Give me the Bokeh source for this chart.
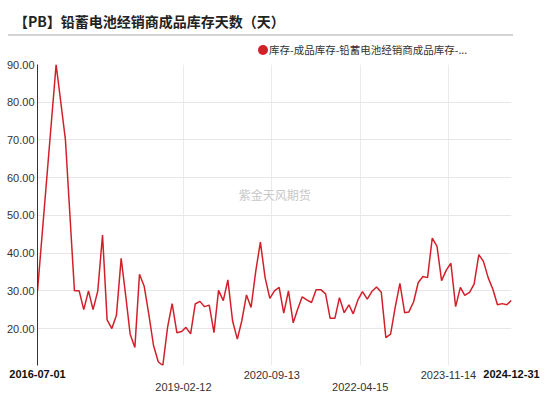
import pandas as pd
from bokeh.plotting import figure
from bokeh.models import (Range1d, FixedTicker, Label, Div,
                          ColumnDataSource, PrintfTickFormatter, DatetimeAxis,
                          DatetimeTickFormatter)
from bokeh.layouts import column
from bokeh.embed import file_html
from bokeh.resources import INLINE

TITLE = "【PB】铅蓄电池经销商成品库存天数（天）"
SERIES_NAME = "库存-成品库存-铅蓄电池经销商成品库存-..."
WATERMARK = "紫金天风期货"

START_DATE = "2016-07-01"
FIRST_MONTH_END = "2016-07-31"
N_MONTH_ENDS = 102

# monthly values (None = month not present in the series)
values = [
    30.0, None, None, None, 90.0, None, 70.0, None, 30.0, 30.0,
    25.0, 30.0, 25.0, 30.0, 44.8, 22.3, 20.0, 23.5, 38.6, 28.3,
    18.5, 15.0, 34.4, 31.2, 23.8, 15.5, 11.2, 10.2, 20.3, 26.6,
    18.9, 19.2, 20.3, 18.6, 26.5, 27.2, 25.8, 26.2, 18.9, 30.1,
    27.4, 32.9, 22.0, 17.2, 22.0, 28.9, 25.6, 35.3, 42.9, 33.5,
    28.0, 30.0, 30.9, 24.1, 30.0, 21.5, 25.0, 28.4, 27.6, 26.9,
    30.3, 30.3, 29.2, 22.7, 22.7, 28.2, 24.2, 26.3, 23.9, 27.6,
    29.8, 27.8, 29.8, 31.0, 29.6, 17.6, 18.5, 25.6, 32.0, 24.2,
    24.4, 27.1, 32.2, 33.8, 33.5, 44.0, 41.8, 32.7, 35.5, 37.3,
    25.8, 30.9, 28.8, 29.6, 31.8, 39.6, 37.8, 33.5, 30.4, 26.3,
    26.6, 26.3, 27.5,
]

x_ticks_edge = ["2016-07-01", "2024-12-31"]          # bold, upper row
x_ticks_upper = ["2020-09-13", "2023-11-14"]          # normal, upper row
x_ticks_lower = ["2019-02-12", "2022-04-15"]          # normal, lower row
y_ticks = [20, 30, 40, 50, 60, 70, 80, 90]
Y_MAX = 90

RED = "#d2202a"

month_ends = list(pd.date_range(FIRST_MONTH_END, periods=N_MONTH_ENDS, freq=pd.offsets.MonthEnd()))
all_dates = [pd.Timestamp(START_DATE)] + month_ends
xs, ys = [], []
for d, v in zip(all_dates, values):
    if v is not None:
        xs.append(d)
        ys.append(v)
src = ColumnDataSource(dict(x=xs, y=ys))

def ms(s):
    return pd.Timestamp(s).value / 1e6

y_min = min(ys)

p = figure(width=540, height=337, x_axis_type="datetime", x_axis_location=None,
           x_range=Range1d(ms(x_ticks_edge[0]), ms(x_ticks_edge[1])),
           y_range=Range1d(y_min, Y_MAX),
           output_backend="svg", toolbar_location=None,
           min_border_left=37, min_border_right=29, min_border_top=8, min_border_bottom=28)
p.outline_line_color = None
p.background_fill_color = "white"

p.line("x", "y", source=src, line_color=RED, line_width=1.5)

# grids
p.xgrid.ticker = FixedTicker(ticks=[ms(t) for t in x_ticks_lower + x_ticks_upper])
p.xgrid.grid_line_color = "#ebebeb"
p.yaxis.ticker = FixedTicker(ticks=y_ticks)
p.ygrid.ticker = FixedTicker(ticks=y_ticks)
p.ygrid.grid_line_color = "#e6e6e6"

# y axis
p.yaxis.formatter = PrintfTickFormatter(format="%.2f")
p.yaxis.axis_line_color = "#333333"
p.yaxis.major_tick_line_color = None
p.yaxis.minor_tick_line_color = None
p.yaxis.major_tick_out = 0
p.yaxis.major_tick_in = 0
p.yaxis.major_label_standoff = 3
p.yaxis.major_label_text_font = "Liberation Sans"
p.yaxis.major_label_text_font_size = "11px"
p.yaxis.major_label_text_color = "#333333"

# x axes: three rows of labels
fmt = "%Y-%m-%d"
def make_xaxis(ticks, standoff, bold):
    ax = DatetimeAxis(
        ticker=FixedTicker(ticks=[ms(t) for t in ticks]),
        formatter=DatetimeTickFormatter(milliseconds=fmt, seconds=fmt, minsec=fmt, minutes=fmt,
                                        hourmin=fmt, hours=fmt, days=fmt, months=fmt, years=fmt),
        axis_line_color=None, major_tick_line_color=None, minor_tick_line_color=None,
        major_tick_out=0, major_tick_in=0, minor_tick_out=0,
        major_label_standoff=standoff,
        major_label_text_font="Liberation Sans", major_label_text_font_size="11px",
        major_label_text_font_style="bold" if bold else "normal",
        major_label_text_color="#111111" if bold else "#333333")
    p.add_layout(ax, "below")
    return ax

make_xaxis(x_ticks_upper, 5, False)
make_xaxis(x_ticks_edge, -12, True)
make_xaxis(x_ticks_lower, 1, False)

# watermark
p.add_layout(Label(x=ms("2020-02-10"), y=55.5, text=WATERMARK, text_align="left",
                   text_baseline="middle", text_font="Noto Sans CJK SC",
                   text_font_size="12px", text_color="#c8c8c8"))

header = Div(
    text=('<div style="position:relative;width:540px;height:56px;">'
          '<div style="position:absolute;left:8px;top:0;width:505px;height:36px;padding-top:8px;'
          'line-height:26px;padding-left:6px;box-sizing:border-box;border-bottom:2px solid #d4d4d4;'
          "font-family:'Noto Sans CJK SC';font-size:14px;font-weight:bold;color:#222;"
          'white-space:nowrap;">' + TITLE + '</div>'
          '<div style="position:absolute;left:258px;top:43px;height:14px;line-height:14px;'
          "font-family:'Noto Sans CJK SC';font-size:10.5px;color:#333;white-space:nowrap;\">"
          '<span style="display:inline-block;width:10px;height:10px;border-radius:5px;'
          'background:' + RED + ';vertical-align:middle;margin-right:1px;margin-top:-2px;"></span>'
          + SERIES_NAME + '</div></div>'),
    width=540, height=56, margin=(0, 0, 0, 0))

layout = column(header, p, spacing=0)
open("out.html", "w").write(file_html(layout, INLINE))
